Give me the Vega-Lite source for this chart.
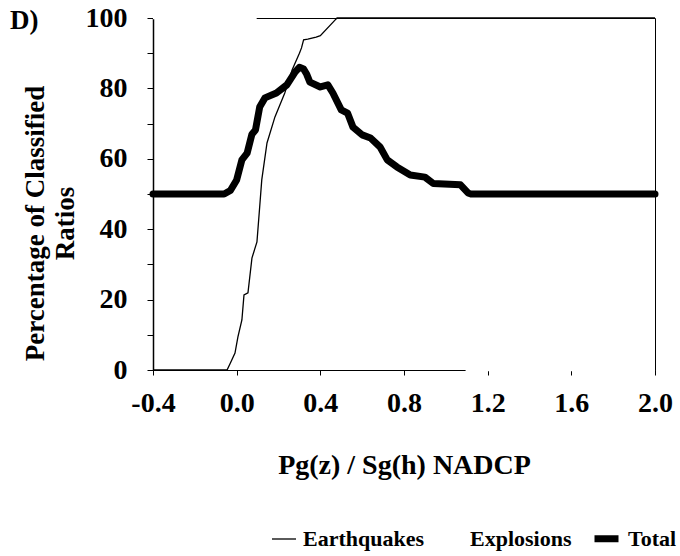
{
  "$schema": "https://vega.github.io/schema/vega-lite/v6.json",
  "width": 502,
  "height": 352,
  "autosize": {"type": "none"},
  "padding": {"left": 153, "top": 18, "right": 25, "bottom": 186},
  "background": "white",
  "title": {"text": "D)", "anchor": "start", "frame": "group", "orient": "top", "offset": 0, "dx": -143, "dy": 52, "fontSize": 27, "font": "Liberation Serif", "fontWeight": "bold", "color": "black", "baseline": "alphabetic"},
  "config": {
    "font": "Liberation Serif",
    "view": {"stroke": "black", "strokeWidth": 1},
    "axis": {"grid": false, "labelFont": "Liberation Serif", "labelFontWeight": "bold", "labelColor": "black", "titleFont": "Liberation Serif", "titleFontWeight": "bold", "titleColor": "black", "domainColor": "black", "tickColor": "black"}
  },
  "data": {"values": [
    {"s": "Explosions", "x": -0.4, "y": 100}, {"s": "Explosions", "x": 0.088, "y": 100}, {"s": "Explosions", "x": 0.15, "y": 92}, {"s": "Explosions", "x": 0.2, "y": 85}, {"s": "Explosions", "x": 0.3, "y": 82}, {"s": "Explosions", "x": 0.4, "y": 66}, {"s": "Explosions", "x": 0.5, "y": 48}, {"s": "Explosions", "x": 0.6, "y": 34}, {"s": "Explosions", "x": 0.7, "y": 24}, {"s": "Explosions", "x": 0.8, "y": 14}, {"s": "Explosions", "x": 0.9, "y": 10}, {"s": "Explosions", "x": 1.0, "y": 6}, {"s": "Explosions", "x": 1.07, "y": 5}, {"s": "Explosions", "x": 1.1, "y": 0}, {"s": "Explosions", "x": 2.0, "y": 0},
    {"s": "Earthquakes", "x": -0.4, "y": 0}, {"s": "Earthquakes", "x": -0.046, "y": 0}, {"s": "Earthquakes", "x": -0.03, "y": 2}, {"s": "Earthquakes", "x": -0.008, "y": 4.8}, {"s": "Earthquakes", "x": 0.006, "y": 9.4}, {"s": "Earthquakes", "x": 0.025, "y": 14.2}, {"s": "Earthquakes", "x": 0.035, "y": 21.3}, {"s": "Earthquakes", "x": 0.054, "y": 21.9}, {"s": "Earthquakes", "x": 0.073, "y": 31.8}, {"s": "Earthquakes", "x": 0.097, "y": 36.4}, {"s": "Earthquakes", "x": 0.11, "y": 46.3}, {"s": "Earthquakes", "x": 0.12, "y": 54}, {"s": "Earthquakes", "x": 0.145, "y": 64.5}, {"s": "Earthquakes", "x": 0.183, "y": 71.9}, {"s": "Earthquakes", "x": 0.23, "y": 78.7}, {"s": "Earthquakes", "x": 0.265, "y": 85.2}, {"s": "Earthquakes", "x": 0.3, "y": 90}, {"s": "Earthquakes", "x": 0.31, "y": 91.5}, {"s": "Earthquakes", "x": 0.32, "y": 93.8}, {"s": "Earthquakes", "x": 0.34, "y": 94}, {"s": "Earthquakes", "x": 0.38, "y": 94.6}, {"s": "Earthquakes", "x": 0.4, "y": 95}, {"s": "Earthquakes", "x": 0.47, "y": 99.4}, {"s": "Earthquakes", "x": 0.48, "y": 100}, {"s": "Earthquakes", "x": 2.0, "y": 100},
    {"s": "Total", "x": -0.4, "y": 50}, {"s": "Total", "x": -0.06, "y": 50}, {"s": "Total", "x": -0.03, "y": 51}, {"s": "Total", "x": 0.0, "y": 54}, {"s": "Total", "x": 0.025, "y": 59.7}, {"s": "Total", "x": 0.05, "y": 61.6}, {"s": "Total", "x": 0.073, "y": 67}, {"s": "Total", "x": 0.09, "y": 68.2}, {"s": "Total", "x": 0.11, "y": 74.7}, {"s": "Total", "x": 0.135, "y": 77.3}, {"s": "Total", "x": 0.19, "y": 78.7}, {"s": "Total", "x": 0.24, "y": 81}, {"s": "Total", "x": 0.28, "y": 84.7}, {"s": "Total", "x": 0.3, "y": 86}, {"s": "Total", "x": 0.32, "y": 85.5}, {"s": "Total", "x": 0.335, "y": 84}, {"s": "Total", "x": 0.35, "y": 81.8}, {"s": "Total", "x": 0.4, "y": 80.4}, {"s": "Total", "x": 0.436, "y": 81}, {"s": "Total", "x": 0.46, "y": 78.7}, {"s": "Total", "x": 0.5, "y": 73.9}, {"s": "Total", "x": 0.53, "y": 73}, {"s": "Total", "x": 0.556, "y": 69}, {"s": "Total", "x": 0.6, "y": 66.8}, {"s": "Total", "x": 0.64, "y": 65.9}, {"s": "Total", "x": 0.685, "y": 63.4}, {"s": "Total", "x": 0.72, "y": 59.7}, {"s": "Total", "x": 0.766, "y": 57.7}, {"s": "Total", "x": 0.83, "y": 55.4}, {"s": "Total", "x": 0.9, "y": 54.8}, {"s": "Total", "x": 0.94, "y": 53}, {"s": "Total", "x": 1.07, "y": 52.6}, {"s": "Total", "x": 1.106, "y": 50.3}, {"s": "Total", "x": 1.12, "y": 50}, {"s": "Total", "x": 2.0, "y": 50}
  ]},
  "encoding": {
    "x": {"field": "x", "type": "quantitative", "scale": {"domain": [-0.4, 2.0], "nice": false, "zero": false},
      "axis": {"values": [-0.4, 0, 0.4, 0.8, 1.2, 1.6, 2.0], "format": ".1f", "labelExpr": "replace(datum.label, '\u2212', '-')", "labelFontSize": 28, "labelPadding": 14, "tickSize": 5, "title": "Pg(z) / Sg(h) NADCP", "titleFontSize": 28, "titlePadding": 34, "labelFlush": false}},
    "y": {"field": "y", "type": "quantitative", "scale": {"domain": [0, 100], "nice": false},
      "axis": {"values": [0, 10, 20, 30, 40, 50, 60, 70, 80, 90, 100], "labelExpr": "datum.value % 20 == 0 ? datum.label : ''", "labelFontSize": 28, "labelPadding": 20, "tickSize": 6, "domainWidth": 1.5, "labelFlush": false, "title": ["Percentage of Classified", "Ratios"], "titleFontSize": 27, "titleAngle": -90, "titleBaseline": "top", "titleX": -131, "titleY": 205, "titleLineHeight": 30}},
    "color": {"field": "s", "type": "nominal", "scale": {"domain": ["Earthquakes", "Explosions", "Total"], "range": ["black", "white", "black"]},
      "legend": {"title": null, "orient": "none", "direction": "horizontal", "legendX": 118, "legendY": 505, "symbolType": "stroke", "symbolSize": 576, "labelFontSize": 22, "labelFont": "Liberation Serif", "labelFontWeight": "bold", "labelColor": "black", "labelOffset": 6, "columnPadding": 8}},
    "strokeWidth": {"field": "s", "type": "ordinal", "scale": {"type": "ordinal", "domain": ["Earthquakes", "Explosions", "Total"], "range": [1.3, 2.5, 7]},
      "legend": {"title": null, "orient": "none", "direction": "horizontal", "legendX": 118, "legendY": 505, "symbolType": "stroke", "symbolSize": 576, "labelFontSize": 22, "labelFont": "Liberation Serif", "labelFontWeight": "bold", "labelColor": "black", "labelOffset": 6, "columnPadding": 8}}
  },
  "layer": [
    {"transform": [{"filter": "datum.s == 'Explosions'"}], "mark": {"type": "line", "clip": false}},
    {"transform": [{"filter": "datum.s == 'Earthquakes'"}], "mark": {"type": "line"}},
    {"transform": [{"filter": "datum.s == 'Total'"}], "mark": {"type": "line", "strokeCap": "round", "strokeJoin": "round"}}
  ]
}
